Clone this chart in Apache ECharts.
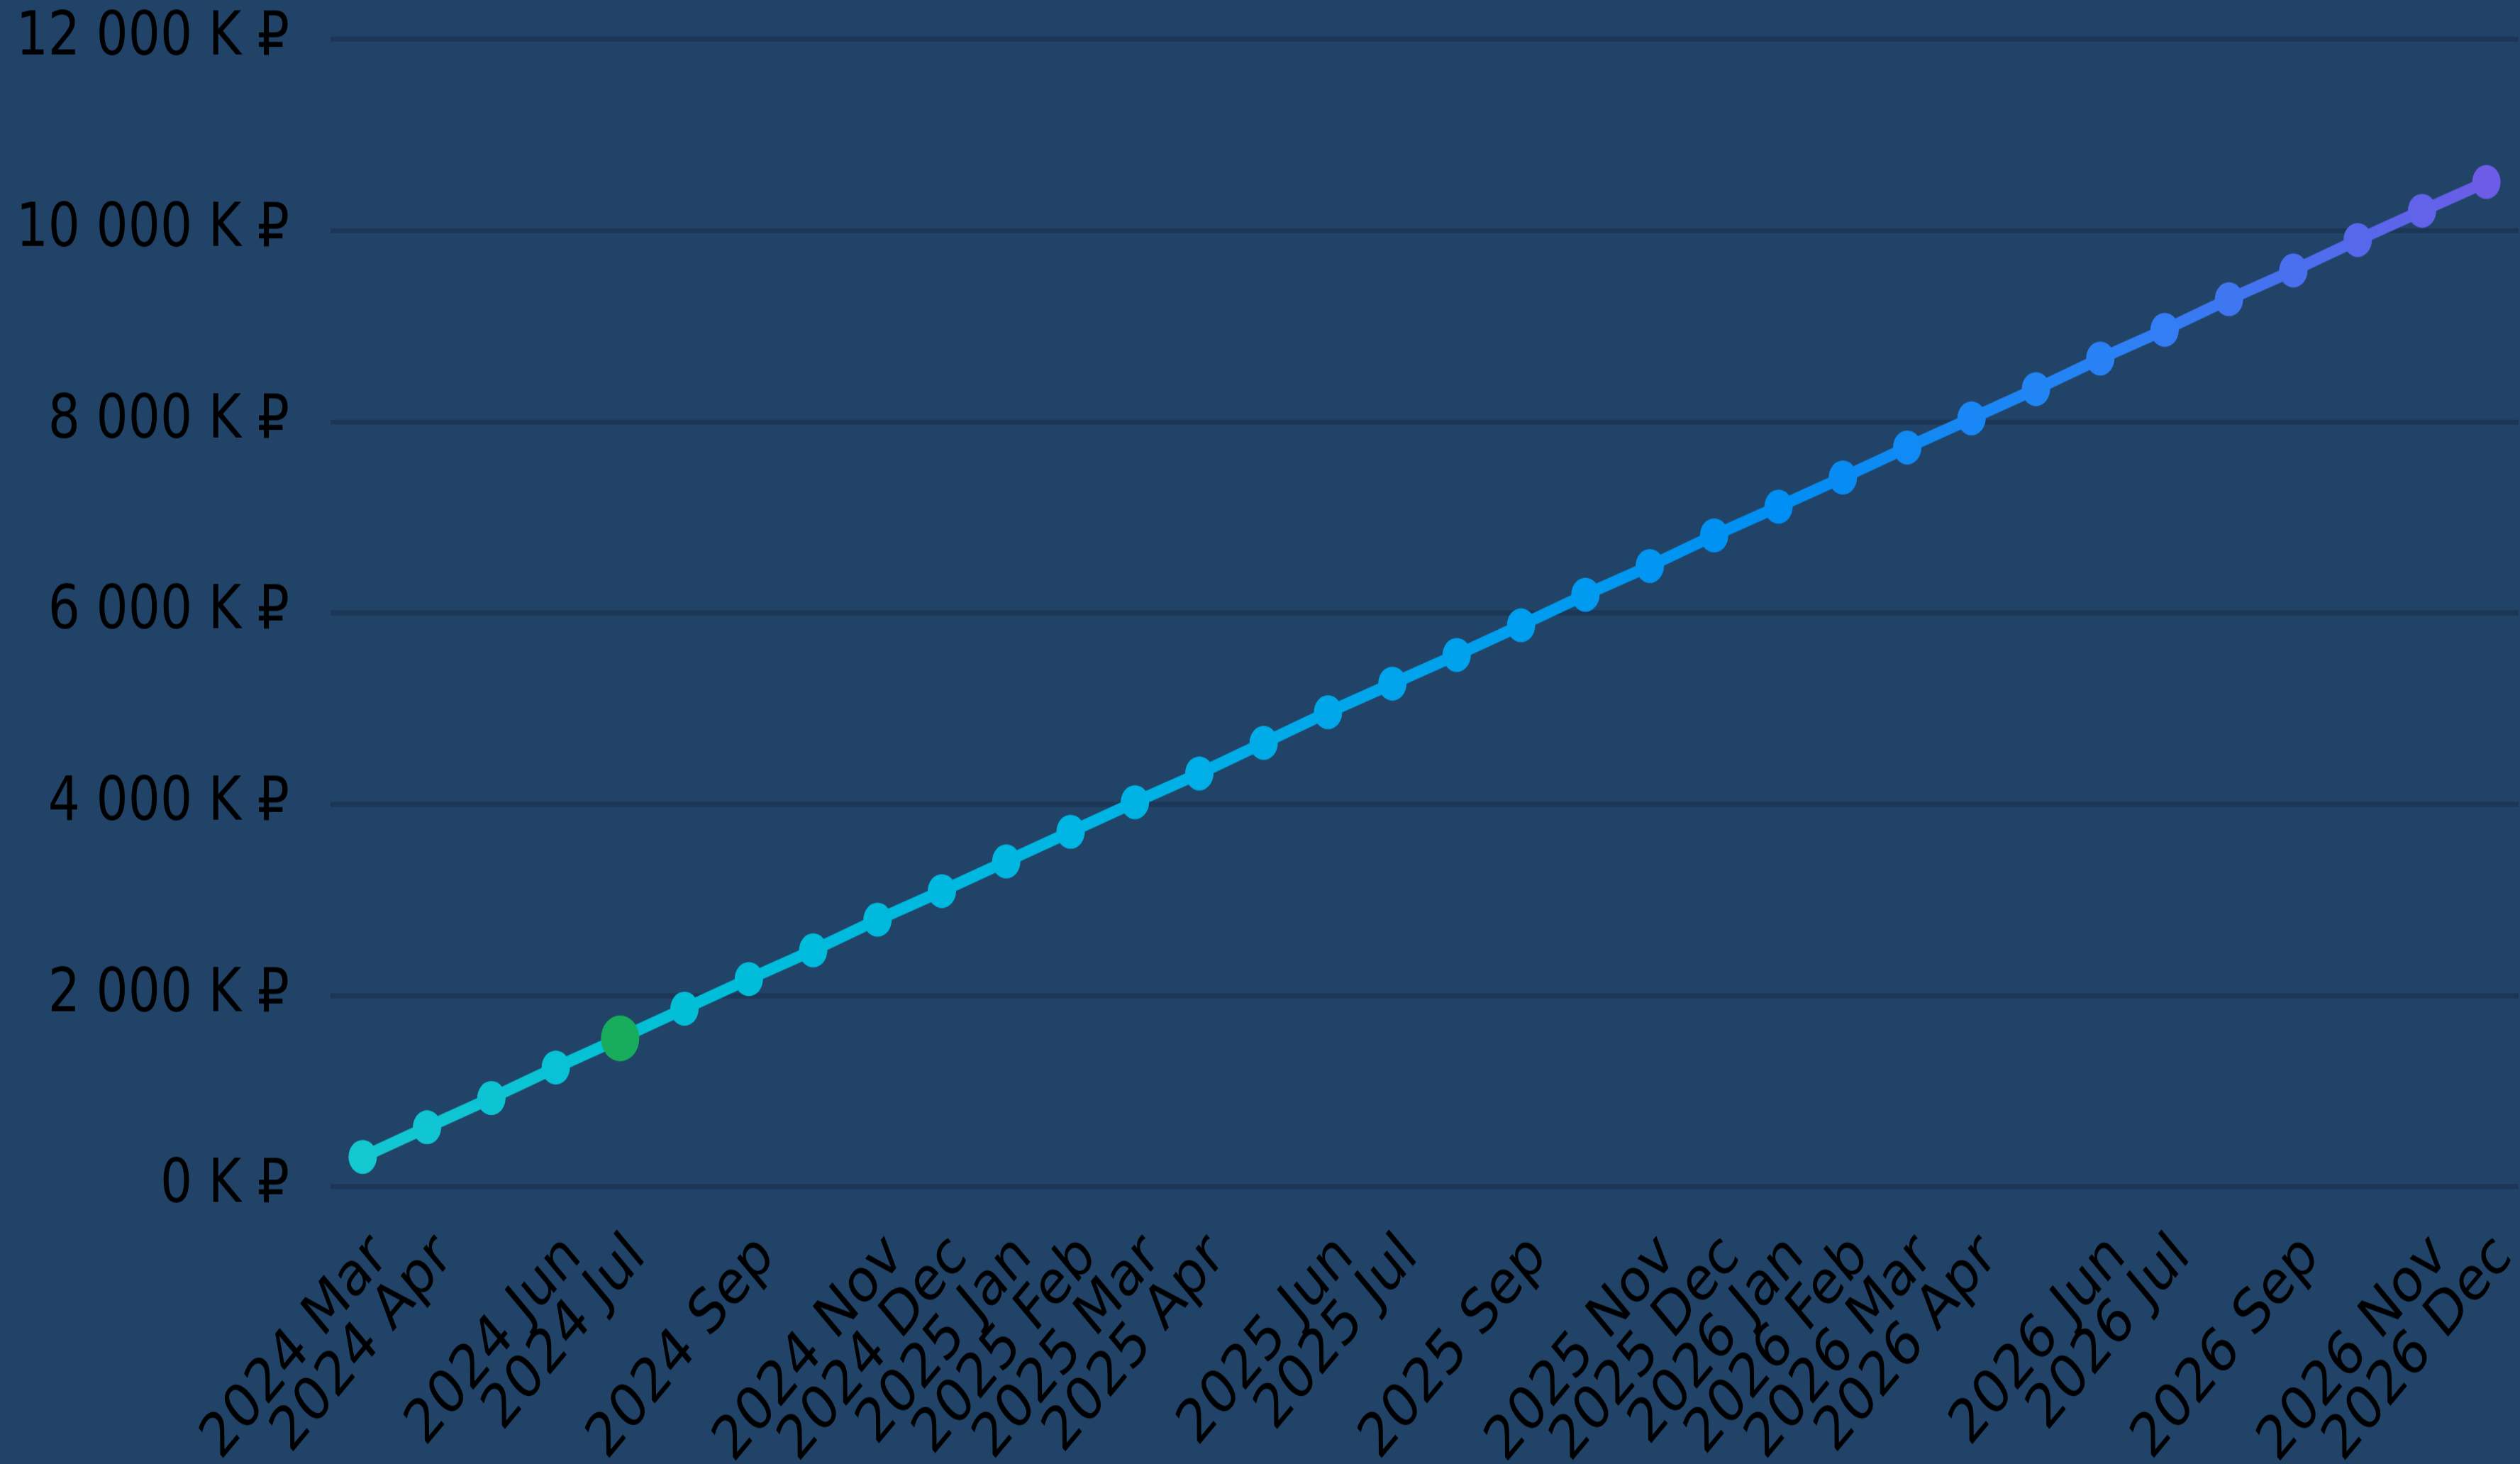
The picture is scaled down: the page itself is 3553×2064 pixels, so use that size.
<!DOCTYPE html>
<html>
<head>
<meta charset="utf-8">
<script src="https://cdn.jsdelivr.net/npm/echarts@6/dist/echarts.min.js"></script>
<style>
html, body { margin: 0; padding: 0; background: #214368; overflow: hidden; width: 3553px; height: 2064px; }
#chart { width: 3553px; height: 1720px; transform: scaleY(1.2); transform-origin: 0 0; }
</style>
</head>
<body>
<div id="chart"></div>
<script>
// ---- data ----
const months = [
  '2024 Mar','2024 Apr','2024 May','2024 Jun','2024 Jul','2024 Aug','2024 Sep','2024 Oct','2024 Nov','2024 Dec',
  '2025 Jan','2025 Feb','2025 Mar','2025 Apr','2025 May','2025 Jun','2025 Jul','2025 Aug','2025 Sep','2025 Oct','2025 Nov','2025 Dec',
  '2026 Jan','2026 Feb','2026 Mar','2026 Apr','2026 May','2026 Jun','2026 Jul','2026 Aug','2026 Sep','2026 Oct','2026 Nov','2026 Dec'
];
const balanceK = [
  310, 620, 925, 1245, 1550, 1860, 2170, 2470, 2790, 3090,
  3400, 3710, 4020, 4320, 4640, 4960, 5260, 5560, 5870, 6190, 6490, 6810,
  7110, 7415, 7730, 8035, 8340, 8660, 8960, 9280, 9580, 9900, 10205, 10506
];
const labeledMonths = [
  '2024 Mar','2024 Apr','2024 Jun','2024 Jul','2024 Sep','2024 Nov','2024 Dec',
  '2025 Jan','2025 Feb','2025 Mar','2025 Apr','2025 Jun','2025 Jul','2025 Sep','2025 Nov','2025 Dec',
  '2026 Jan','2026 Feb','2026 Mar','2026 Apr','2026 Jun','2026 Jul','2026 Sep','2026 Nov','2026 Dec'
];
const highlightMonth = '2024 Jul';
const yMin = 0, yMax = 12000, yStep = 2000;

// ---- style ----
const gradientColors = ['#14c8d0', '#00bed9', '#00b6e4', '#00a3ec', '#008ff4', '#2d81f5', '#6c5ce7'];
const highlightColor = '#17ad5c';
const labelFont = 'DejaVu Sans';

const fmtK = v => String(v).replace(/\B(?=(\d{3})+(?!\d))/g, ' ') + ' K ₽';
const firstMonth = months[0];
const lastMonth = months[months.length - 1];

const xLabelStyle = {
  rotate: 45,
  color: '#000',
  fontFamily: labelFont,
  fontSize: 71,
  margin: 46,
  verticalAlign: 'top',
  hideOverlap: false
};
const baseXAxis = {
  type: 'category',
  data: months,
  boundaryGap: true,
  position: 'bottom',
  axisLine: { show: false },
  axisTick: { show: false },
  splitLine: { show: false }
};

const chart = echarts.init(document.getElementById('chart'), null, { renderer: 'canvas' });
chart.setOption({
  animation: false,
  backgroundColor: '#214368',
  grid: { left: 466, right: 2, top: 46, bottom: 326, containLabel: false, outerBoundsMode: 'none' },
  xAxis: [
    Object.assign({}, baseXAxis, {
      axisLabel: Object.assign({}, xLabelStyle, {
        interval: (i, name) => labeledMonths.indexOf(name) >= 0 && name !== firstMonth && name !== lastMonth
      })
    }),
    Object.assign({}, baseXAxis, {
      axisLabel: Object.assign({}, xLabelStyle, {
        interval: (i, name) => labeledMonths.indexOf(name) >= 0 && (name === firstMonth || name === lastMonth),
        showMinLabel: true,
        showMaxLabel: true
      })
    })
  ],
  yAxis: {
    type: 'value',
    min: yMin, max: yMax, interval: yStep,
    axisLine: { show: false },
    axisTick: { show: false },
    splitLine: { show: true, lineStyle: { color: '#1c3657', width: 6 } },
    axisLabel: {
      color: '#000',
      fontFamily: labelFont,
      fontSize: 71,
      margin: 58,
      formatter: fmtK
    }
  },
  visualMap: {
    type: 'continuous',
    show: false,
    seriesIndex: 0,
    dimension: 1,
    min: balanceK[0],
    max: balanceK[balanceK.length - 1],
    inRange: { color: gradientColors }
  },
  series: [
    {
      type: 'line',
      xAxisIndex: 0,
      data: balanceK,
      symbol: 'circle',
      symbolSize: 40,
      lineStyle: { width: 14 },
      z: 2
    },
    {
      type: 'scatter',
      xAxisIndex: 0,
      data: months.map((m, i) => (m === highlightMonth ? balanceK[i] : '-')),
      symbol: 'circle',
      symbolSize: 54,
      itemStyle: { color: highlightColor, opacity: 1 },
      z: 3
    }
  ]
});
</script>
</body>
</html>
